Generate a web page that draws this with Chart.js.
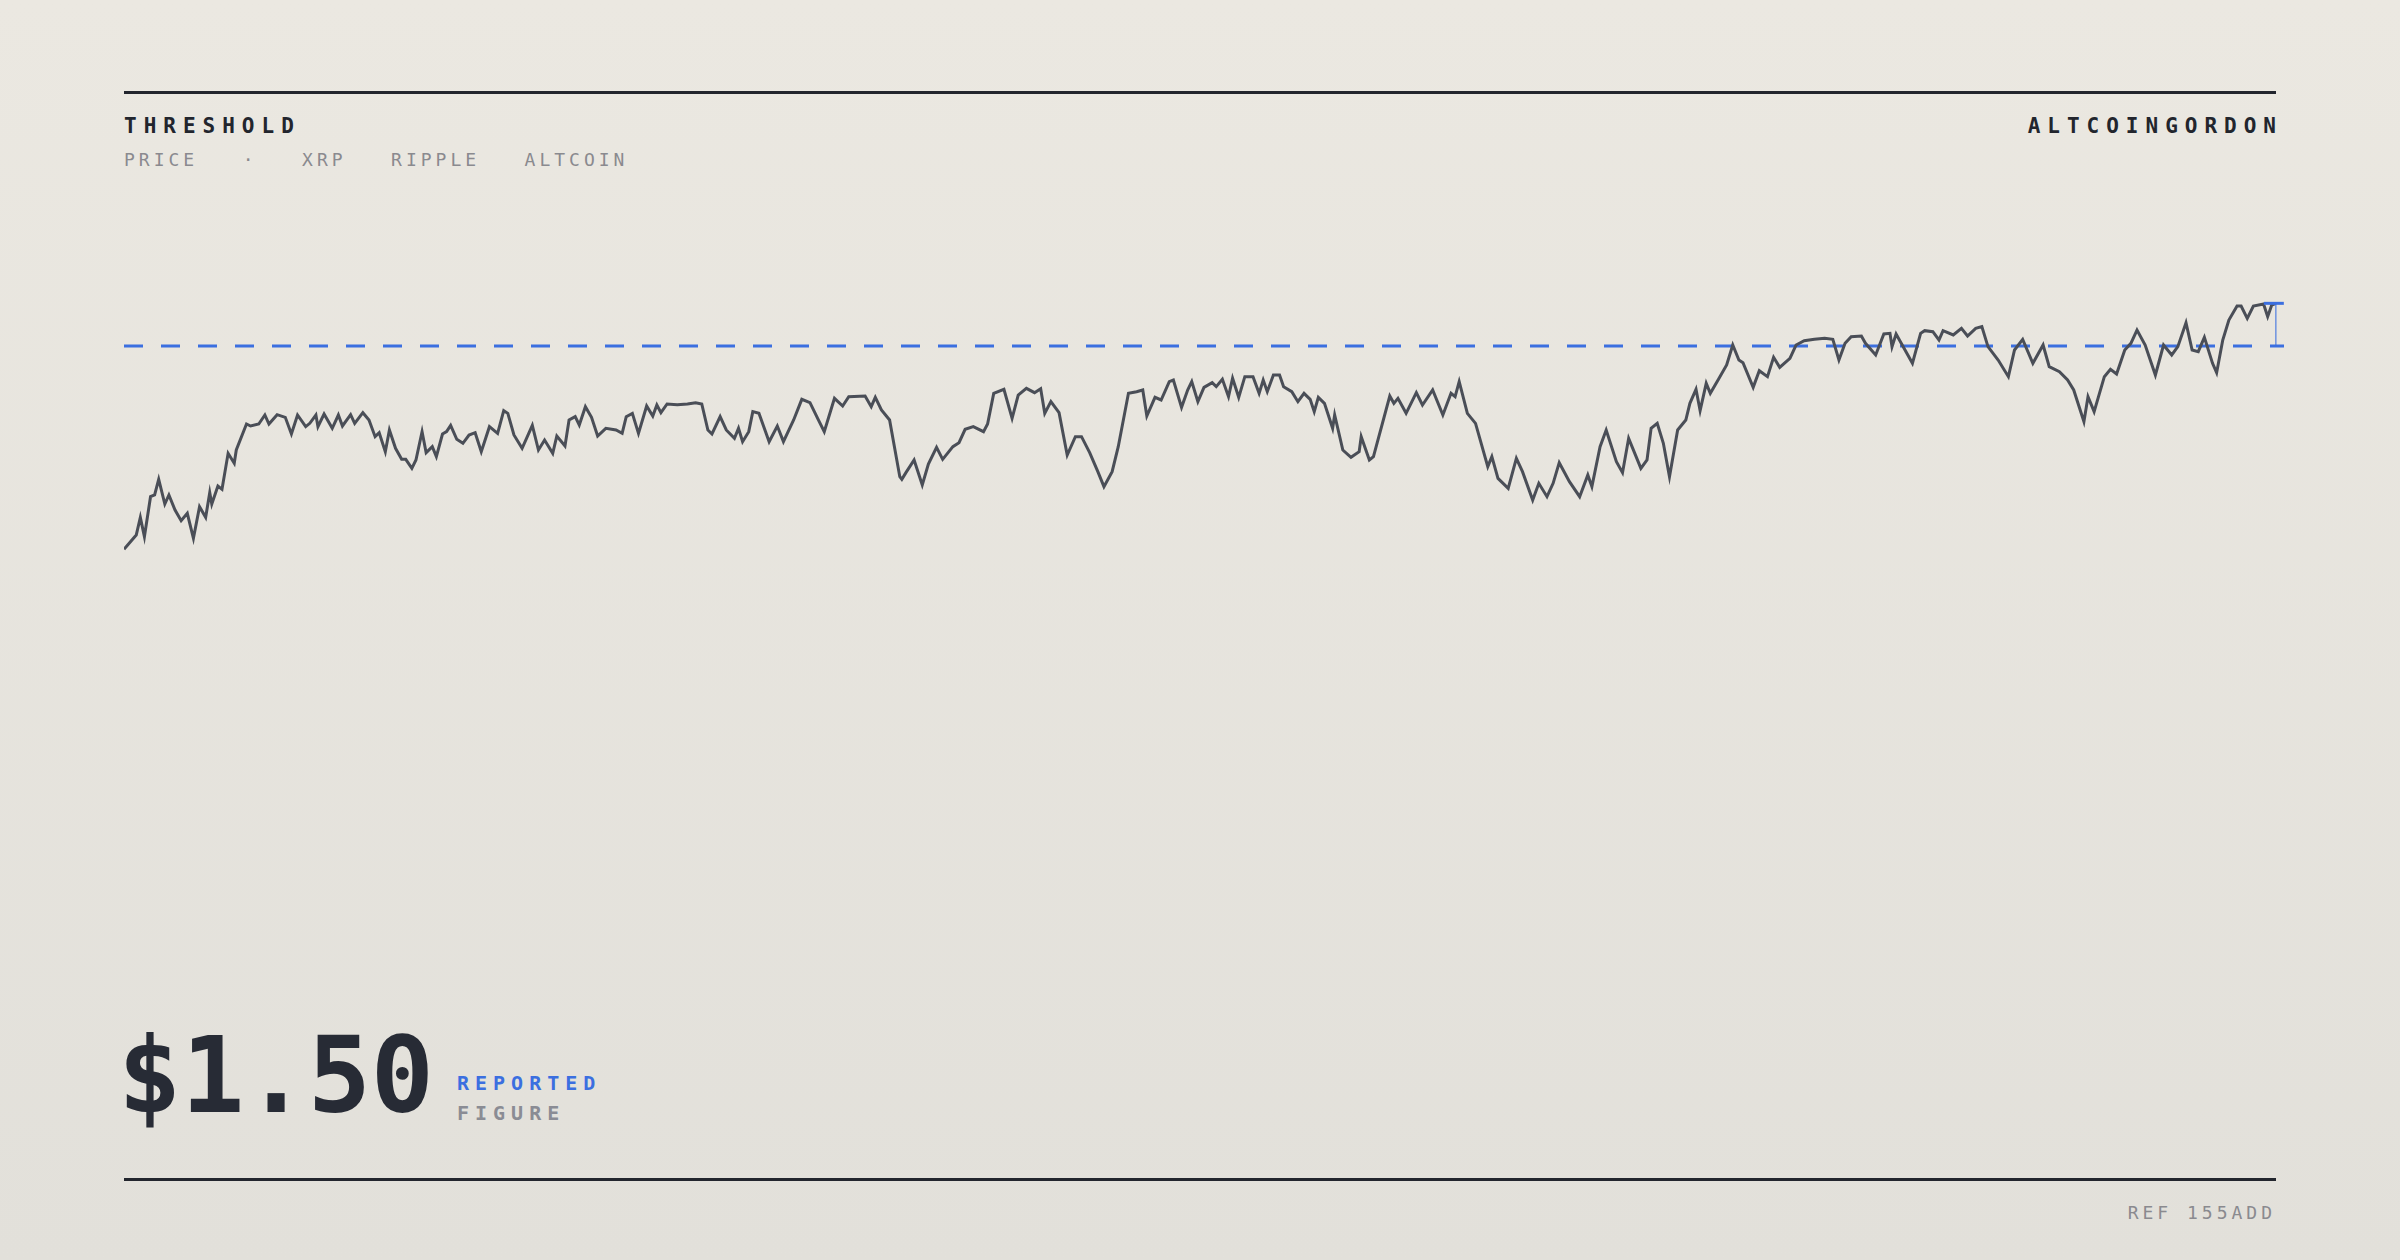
<!DOCTYPE html>
<html>
<head>
<meta charset="utf-8">
<script src="https://cdn.jsdelivr.net/npm/chart.js@4"></script>
<style>
  html, body { margin: 0; padding: 0; }
  body {
    width: 2400px; height: 1260px; position: relative; overflow: hidden;
    background: linear-gradient(#ebe8e1, #e2e0da);
    font-family: "DejaVu Sans Mono", monospace;
  }
  .rule { position: absolute; left: 124px; width: 2152px; height: 3px; background: #22252d; }
  .title { position: absolute; top: 114px; font-size: 21px; font-weight: bold; letter-spacing: 7px; color: #22252d; }
  .sub { position: absolute; left: 124px; top: 149px; font-size: 18px; letter-spacing: 4px; color: #8a8a8f; white-space: pre; }
  #wrap { position: absolute; left: 124px; top: 260px; width: 2160px; height: 400px; }
  .big { position: absolute; left: 118px; top: 1015px; font-size: 105px; font-weight: bold; color: #272b35; }
  .tag { position: absolute; left: 457px; font-size: 20px; font-weight: bold; letter-spacing: 6px; }
  .ref { position: absolute; right: 124px; top: 1202px; font-size: 18px; letter-spacing: 4px; color: #8a8a8f; }
</style>
</head>
<body>
<div class="rule" style="top:91px"></div>
<div class="title" style="left:124px">THRESHOLD</div>
<div class="title" style="right:117px">ALTCOINGORDON</div>
<div class="sub">PRICE   ·   XRP   RIPPLE   ALTCOIN</div>
<div id="wrap"><canvas id="chart"></canvas></div>
<div class="big">$1.50</div>
<div class="tag" style="top:1071px;color:#3b6fe0">REPORTED</div>
<div class="tag" style="top:1101px;color:#8a8c94">FIGURE</div>
<div class="rule" style="top:1178px"></div>
<div class="ref">REF 155ADD</div>
<script>
const threshold = 1.50;

const days = [0,6,8,10,13,15,17,20,22,25,28,31,34,37,40,42,43,46,48,51,54,55,60,62,66,69,71,75,79,82,85,89,91,94,95,98,102,105,107,111,113,117,120,123,125,128,130,133,136,138,141,143,146,148,151,153,156,158,160,163,166,169,172,175,179,183,186,188,191,195,200,203,206,210,212,216,218,221,223,226,229,232,236,241,244,246,249,252,256,259,261,263,266,271,276,280,283,286,288,292,295,299,301,303,306,308,311,316,320,323,328,332,336,340,343,348,352,355,363,366,368,371,375,380,
  381,383,387,391,394,398,401,406,409,412,416,421,423,426,431,435,438,442,446,449,451,454,458,462,466,469,473,477,480,484,487,492,496,499,501,505,508,512,514,518,521,523,526,529,533,535,538,541,543,546,549,553,556,558,560,563,566,568,572,575,578,581,583,585,588,592,593,597,601,605,606,610,612,620,622,624,628,633,636,641,646,650,652,654,658,662,668,670,673,678,682,685,690,693,697,700,703,708,713,717,719,
  723,726,731,734,737,740,743,746,748,751,754,757,761,765,767,770,772,775,777,781,785,788,791,793,798,801,805,808,811,816,819,823,828,833,837,840,843,846,851,853,858,862,865,866,868,871,876,880,882,886,889,891,896,900,903,907,910,913,918,923,926,930,935,940,943,948,952,955,960,962,965,970,973,976,980,983,986,990,995,999,1003,1006,1010,1013,1016,1019,1023,1025,1028,1031,1035,1037,1040,1043,1048,1050,1052,1054];

const prices = [0.890,0.933,0.986,0.928,1.048,1.053,1.100,1.026,1.053,1.008,0.976,0.998,0.923,1.018,0.986,1.060,1.026,1.080,1.070,1.178,1.148,1.188,1.266,1.260,1.266,1.293,1.266,1.294,1.286,1.236,1.293,1.258,1.268,1.293,1.258,1.296,1.253,1.293,1.260,1.294,1.268,1.300,1.278,1.228,1.240,1.183,1.248,1.193,1.160,1.160,1.133,1.158,1.243,1.180,1.198,1.168,1.236,1.243,1.262,1.220,1.208,1.233,1.240,1.183,1.258,1.238,1.306,1.298,1.233,1.193,1.262,1.188,1.218,1.178,1.230,1.200,1.278,1.288,1.263,1.318,1.286,1.230,1.253,1.248,1.238,1.288,1.298,1.238,1.320,1.290,1.323,1.300,1.326,1.324,1.326,1.330,1.326,1.248,1.236,1.288,1.248,1.223,1.253,1.213,1.243,1.303,1.298,1.213,1.260,1.213,1.278,1.340,1.330,1.280,1.243,1.343,1.320,1.348,1.350,1.318,1.346,1.308,1.278,1.108,
  1.100,1.120,1.158,1.083,1.146,1.196,1.160,1.198,1.210,1.250,1.258,1.243,1.266,1.358,1.370,1.283,1.353,1.373,1.360,1.372,1.298,1.333,1.300,1.173,1.228,1.228,1.180,1.123,1.078,1.123,1.198,1.358,1.363,1.368,1.290,1.346,1.338,1.393,1.398,1.316,1.368,1.393,1.333,1.376,1.390,1.378,1.400,1.348,1.403,1.346,1.408,1.408,1.358,1.398,1.363,1.413,1.413,1.378,1.363,1.333,1.358,1.340,1.303,1.346,1.328,1.253,1.293,1.188,1.166,1.183,1.228,1.158,1.168,1.350,1.328,1.343,1.298,1.360,1.323,1.368,1.293,1.358,1.348,1.393,1.298,1.268,1.138,1.168,1.103,1.073,1.163,1.123,1.038,1.088,1.048,1.088,1.150,1.093,1.048,1.113,1.078,
  1.198,1.248,1.153,1.120,1.223,1.178,1.133,1.158,1.253,1.268,1.208,1.108,1.248,1.278,1.328,1.370,1.306,1.388,1.358,1.400,1.443,1.503,1.458,1.450,1.376,1.426,1.408,1.466,1.436,1.463,1.503,1.516,1.520,1.523,1.520,1.458,1.508,1.528,1.530,1.508,1.473,1.536,1.538,1.498,1.536,1.503,1.448,1.538,1.546,1.543,1.518,1.546,1.533,1.553,1.530,1.553,1.558,1.498,1.458,1.408,1.488,1.520,1.448,1.503,1.438,1.423,1.398,1.368,1.273,1.348,1.303,1.408,1.430,1.416,1.488,1.508,1.548,1.503,1.413,1.503,1.473,1.498,1.570,1.488,1.483,1.526,1.448,1.420,1.518,1.578,1.620,1.620,1.583,1.620,1.626,1.588,1.623,1.628];

// threshold dashes + bracket from last price down to the threshold
const thresholdPlugin = {
  id: "threshold",
  beforeDatasetsDraw(chart) {
    const { ctx, chartArea, scales } = chart;
    const y = scales.y.getPixelForValue(threshold);
    ctx.save();
    ctx.strokeStyle = "#3b6fe0";
    ctx.lineWidth = 3;
    ctx.setLineDash([19, 18]);
    ctx.beginPath();
    ctx.moveTo(chartArea.left, y);
    ctx.lineTo(chartArea.right, y);
    ctx.stroke();
    ctx.restore();
  },
  afterDatasetsDraw(chart) {
    const { ctx, scales } = chart;
    const lastX = scales.x.getPixelForValue(days[days.length - 1]);
    const top = scales.y.getPixelForValue(prices[prices.length - 1]);
    const bottom = scales.y.getPixelForValue(threshold);
    ctx.save();
    ctx.strokeStyle = "rgba(59,111,224,0.7)";
    ctx.lineWidth = 1.5;
    ctx.beginPath();
    ctx.moveTo(lastX, top);
    ctx.lineTo(lastX, bottom);
    ctx.stroke();
    ctx.strokeStyle = "#3b6fe0";
    ctx.lineWidth = 3;
    ctx.beginPath();
    ctx.moveTo(lastX - 12, top);
    ctx.lineTo(lastX + 8, top);
    ctx.stroke();
    ctx.restore();
  }
};

new Chart(document.getElementById("chart"), {
  type: "line",
  data: {
    datasets: [{
      data: days.map((d, i) => ({ x: d, y: prices[i] })),
      borderColor: "#4a4e57",
      borderWidth: 3,
      pointRadius: 0,
      tension: 0,
      fill: false
    }]
  },
  options: {
    responsive: true,
    maintainAspectRatio: false,
    animation: false,
    layout: { padding: 0 },
    plugins: { legend: { display: false }, tooltip: { enabled: false } },
    scales: {
      x: { type: "linear", min: 0, max: 1058, display: false },
      y: { min: 0.558, max: 1.758, display: false }
    }
  },
  plugins: [thresholdPlugin]
});
</script>
</body>
</html>
